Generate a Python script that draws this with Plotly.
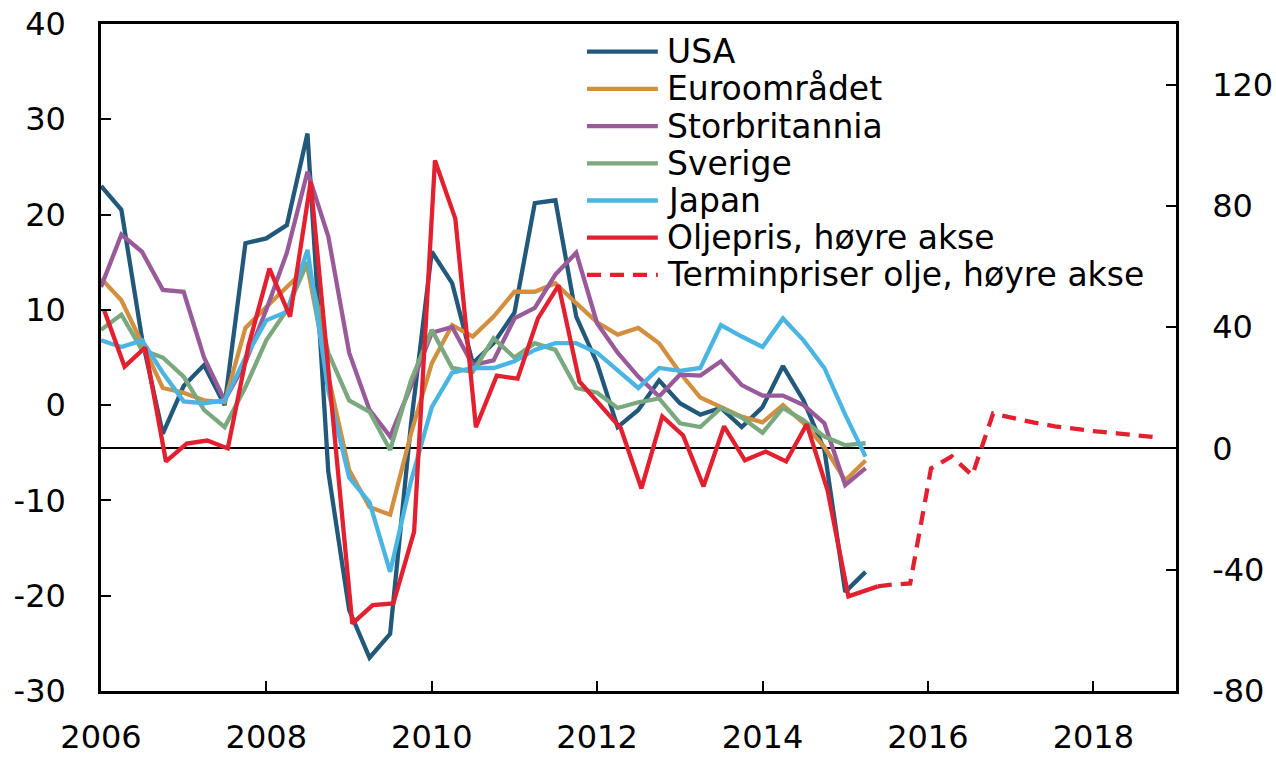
import pandas as pd
import plotly.graph_objects as go

# Quarterly observations, 2006Q1-2015Q2 (percent change, left axis)
quarters = pd.date_range("2006-01-01", periods=38, freq="QS")

usa = [23, 20.5, 7, -3, 2, 4.2, 0, 17, 17.5, 18.9, 28.5, -7, -21.5, -26.5, -24, -2,
       16.1, 12.8, 4.4, 6.5, 9.7, 21.2, 21.5, 9.3, 4.4, -2.3, -0.5, 2.6, 0.2, -1,
       -0.3, -2.3, -0.2, 4.1, 0.5, -4.7, -19.6, -17.5]
euro = [13.3, 11.0, 6.5, 1.8, 1.3, 0.5, 0.3, 8.1, 10.3, 12.4, 14.5, 3, -6.8, -10.7,
        -11.5, -3, 4.4, 8.4, 7.2, 9.3, 11.9, 11.9, 12.8, 10.7, 8.7, 7.4, 8.1, 6.5,
        3.4, 0.8, -0.2, -1.2, -1.8, 0, -1.9, -4.4, -7.9, -5.8]
uk = [12.4, 17.9, 16.1, 12.1, 11.9, 5.0, 0.5, 4.5, 10, 16.0, 24.5, 17.7, 5.5, -0.5,
      -3.3, 2, 7.6, 8.2, 4.2, 4.7, 9.1, 10.2, 13.7, 16.0, 8.6, 5.5, 3.0, 0.9, 3.2,
      3.1, 4.6, 2.1, 1.0, 1.0, 0.0, -1.9, -8.4, -6.6]
sweden = [7.9, 9.5, 5.8, 5.0, 3.0, -0.5, -2.3, 1.9, 6.8, 10, 15, 5.5, 0.5, -0.7,
          -4.7, 2.6, 7.9, 3.9, 3.5, 7.0, 5.0, 6.5, 5.8, 1.8, 1.3, -0.3, 0.3, 0.7,
          -1.9, -2.3, -0.3, -1.3, -2.9, -0.3, -1.6, -3.3, -4.2, -4.0]
japan = [6.8, 6.1, 6.8, 3.4, 0.4, 0.2, 0.5, 5.0, 8.9, 9.8, 16.3, 1.5, -7.6, -10.2,
         -17.5, -8, -0.2, 3.4, 3.9, 3.9, 4.6, 5.8, 6.5, 6.5, 5.5, 3.7, 1.8, 3.9, 3.6,
         3.9, 8.4, 7.2, 6.1, 9.1, 6.8, 3.9, -1.0, -5.4]

# Oil price (right axis), mid-month of each quarter plus the latest reading
oil_dates = list((quarters + pd.Timedelta(days=14)).strftime("%Y-%m-%d")) + ["2015-05-25"]
oil = [45.6, 27, 33.3, -4.3, 1.6, 2.6, 0, 34, 59.3, 43.5, 88, 14, -57.8, -51.7, -51.1,
       -27.4, 95, 75.8, 7, 24, 23, 42.9, 53.8, 22.1, 14.2, 6.6, -13.2, 10.6, 4.3,
       -12.5, 7.3, -3.9, -1.0, -4.3, 8, -13.8, -48.8, -46.5, -45.5]

# Oil futures (right axis)
fwd_dates = ["2015-05-25", "2015-07-15", "2015-10-15", "2016-01-15", "2016-04-15",
             "2016-07-15", "2016-10-15", "2017-01-15", "2017-04-15", "2017-07-15",
             "2017-10-15", "2018-01-15", "2018-04-15", "2018-07-15", "2018-10-15"]
fwd = [-45.5, -45, -44.5, -6.6, -2.6, -8.9, 11.5, 9.8, 8.5, 7.3, 6.4, 5.6, 5.0, 4.3, 3.6]

names = ["USA", "Euroområdet", "Storbritannia", "Sverige", "Japan",
         "Oljepris, høyre akse", "Terminpriser olje, høyre akse"]
colors = ["#22597A", "#D28F40", "#985A99", "#7BA97F", "#4AB5E2", "#E2202F", "#E2202F"]
dashes = ["solid"] * 6 + ["14px,9px"]

left_ticks = [-30, -20, -10, 0, 10, 20, 30, 40]
left_labels = ["-30", "-20", "-10", "0", "10", "20", "30", "40"]
right_ticks = [-80, -40, 0, 40, 80, 120]
right_labels = ["-80", "-40", "0", "40", "80", "120"]

FONT = "DejaVu Sans, Liberation Sans, sans-serif"
LW = 4.3

fig = go.Figure()
for vals, name, col in zip([usa, euro, uk, sweden, japan], names[:5], colors[:5]):
    fig.add_trace(go.Scatter(x=quarters, y=vals, name=name, mode="lines",
                             line=dict(color=col, width=LW), yaxis="y"))
fig.add_trace(go.Scatter(x=oil_dates, y=oil, name=names[5], mode="lines",
                         line=dict(color=colors[5], width=LW), yaxis="y2"))
fig.add_trace(go.Scatter(x=fwd_dates, y=fwd, name=names[6], mode="lines",
                         line=dict(color=colors[6], width=LW, dash=dashes[6]), yaxis="y2"))

# Legend drawn as line samples plus labels
shapes = []
annotations = []
row0, step, plot_top, plot_h = 51.7, 37.2, 24, 667
for i, (name, col, dsh) in enumerate(zip(names, colors, dashes)):
    ypx = row0 + step * i
    yp = 1 - (ypx - plot_top) / plot_h
    shapes.append(dict(type="line", xref="paper", yref="paper", x0=0.4521, x1=0.518,
                       y0=yp, y1=yp, line=dict(color=col, width=LW, dash=dsh)))
    annotations.append(dict(text=name, xref="paper", yref="paper", x=0.5245, y=yp,
                            xanchor="left", yanchor="middle", showarrow=False,
                            font=dict(family=FONT, size=33, color="black")))

fig.update_layout(
    width=1276, height=758, autosize=False,
    margin=dict(l=101, r=100, t=24, b=67),
    paper_bgcolor="white", plot_bgcolor="white",
    font=dict(family=FONT, size=32, color="black"),
    showlegend=False,
    shapes=shapes, annotations=annotations,
    xaxis=dict(type="date", range=["2006-01-01", "2019-01-01"],
               tick0="2006-01-01", dtick="M24", tickformat="%Y",
               ticks="inside", ticklen=10, tickwidth=2, tickcolor="black",
               showline=True, linecolor="black", linewidth=2.5, mirror=True,
               showgrid=False, zeroline=False, ticklabelstandoff=16,
               automargin=False),
    yaxis=dict(range=[-30, 40], tickvals=left_ticks, ticktext=left_labels,
               ticks="inside", ticklen=10, tickwidth=2, tickcolor="black",
               showline=True, linecolor="black", linewidth=2.5,
               showgrid=False, zeroline=False, ticklabelstandoff=26,
               automargin=False),
    yaxis2=dict(range=[-80, 140], tickvals=right_ticks, ticktext=right_labels,
                overlaying="y", side="right",
                ticks="inside", ticklen=10, tickwidth=2, tickcolor="black",
                showline=True, linecolor="black", linewidth=2.5,
                showgrid=False, zeroline=True, zerolinecolor="black",
                zerolinewidth=2, ticklabelstandoff=27, automargin=False),
)

fig.write_html("out.html")
